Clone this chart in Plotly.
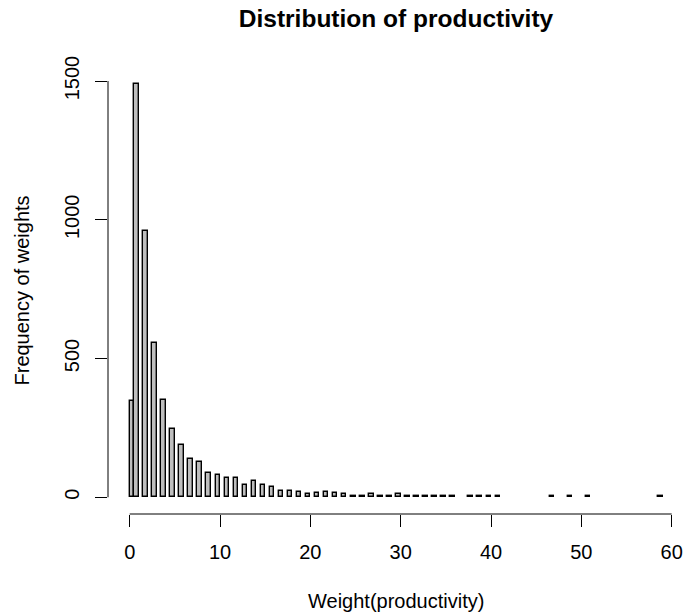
import plotly.graph_objects as go

# Histogram of productivity weights (bins of width 0.5, empty bins omitted)
bin_width = 0.5
bin_left = [0.0, 0.5, 1.5, 2.5, 3.5, 4.5, 5.5, 6.5, 7.5, 8.5, 9.5, 10.5, 11.5,
            12.5, 13.5, 14.5, 15.5, 16.5, 17.5, 18.5, 19.5, 20.5, 21.5, 22.5,
            23.5, 24.5, 25.5, 26.5, 27.5, 28.5, 29.5, 30.5, 31.5, 32.5, 33.5,
            34.5, 35.5, 37.5, 38.5, 39.5, 40.5, 46.5, 48.5, 50.5, 58.5]
counts = [348, 1490, 960, 555, 350, 245, 190, 139, 128, 87, 82, 68, 68,
          45, 60, 43, 38, 24, 24, 19, 11, 14, 19, 14,
          11, 6, 6, 11, 6, 6, 11, 6, 6, 6, 6,
          6, 6, 6, 5, 5, 5, 4, 4, 4, 5]

x_ticks = [0, 10, 20, 30, 40, 50, 60]
y_ticks = [0, 500, 1000, 1500]

FONT = "Liberation Sans, Arial, Helvetica, sans-serif"

centers = [b + bin_width / 2 for b in bin_left]

fig = go.Figure(
    go.Bar(
        x=centers,
        y=counts,
        width=bin_width,
        marker=dict(color="#bebebe", line=dict(color="black", width=1.4)),
        hoverinfo="x+y",
    )
)

fig.update_layout(
    template="none",
    width=684,
    height=615,
    margin=dict(l=108, r=0, t=67, b=101, pad=0),
    paper_bgcolor="white",
    plot_bgcolor="white",
    showlegend=False,
    bargap=0,
    font=dict(family=FONT, size=20, color="black"),
    title=dict(
        text="<b>Distribution of productivity</b>",
        font=dict(family=FONT, size=24.5, color="black"),
        x=0.5 + 54 / 684,
        xanchor="center",
        y=1 - 18 / 615,
        yanchor="middle",
        xref="container",
        yref="container",
    ),
    annotations=[
        dict(
            text="Weight(productivity)",
            xref="paper", yref="paper",
            x=0.5, y=-(601 - 514) / 447,
            xanchor="center", yanchor="middle",
            showarrow=False,
            font=dict(family=FONT, size=20, color="black"),
        ),
        dict(
            text="Frequency of weights",
            xref="paper", yref="paper",
            x=(21 - 108) / 576, y=0.5,
            xanchor="center", yanchor="middle",
            textangle=-90,
            showarrow=False,
            font=dict(family=FONT, size=20, color="black"),
        ),
    ],
    shapes=[
        # axis lines spanning only the tick range, base-graphics style
        dict(type="line", xref="x", yref="paper", x0=x_ticks[0], x1=x_ticks[-1],
             y0=0, y1=0, line=dict(color="black", width=1)),
        dict(type="line", xref="paper", yref="y", x0=0, x1=0,
             y0=y_ticks[0], y1=y_ticks[-1], line=dict(color="black", width=1)),
    ],
)

fig.update_xaxes(
    range=[-2.402, 61.364],
    tickvals=x_ticks,
    ticktext=[str(v) for v in x_ticks],
    ticks="outside",
    ticklen=12,
    tickwidth=1,
    tickcolor="black",
    ticklabelstandoff=8,
    showline=False,
    showgrid=False,
    zeroline=False,
    tickfont=dict(family=FONT, size=20, color="black"),
)
fig.update_yaxes(
    range=[-60.2, 1550.6],
    tickvals=y_ticks,
    ticktext=[str(v) for v in y_ticks],
    ticks="outside",
    ticklen=12,
    tickwidth=1,
    tickcolor="black",
    tickangle=-90,
    ticklabelstandoff=8,
    showline=False,
    showgrid=False,
    zeroline=False,
    tickfont=dict(family=FONT, size=20, color="black"),
)

fig.write_html("out.html")
